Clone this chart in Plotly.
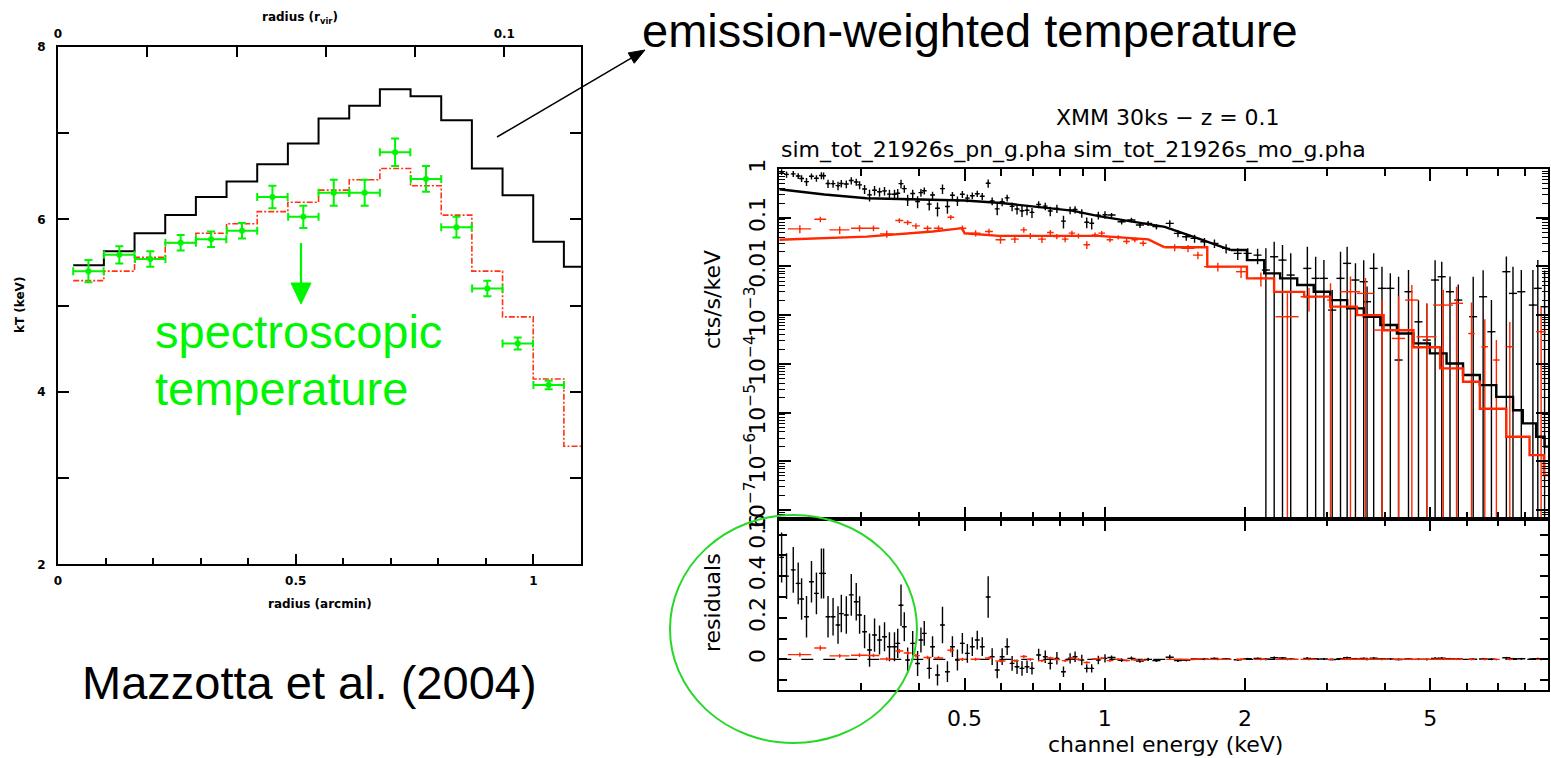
import plotly.graph_objects as go

W, H = 1551, 758

# ---------------- Left panel: Mazzotta et al. (2004) ----------------
bin_edges = [0.032, 0.0965, 0.161, 0.2255, 0.29, 0.3545, 0.419, 0.4835, 0.548,
             0.6125, 0.677, 0.7415, 0.806, 0.8705, 0.935, 0.9995, 1.064, 1.1]
kT_emission = [5.47, 5.63, 5.84, 6.05, 6.26, 6.44, 6.64, 6.88, 7.17, 7.32, 7.51,
               7.43, 7.15, 6.59, 6.28, 5.74, 5.45]
kT_spec_model = [5.29, 5.40, 5.56, 5.73, 5.84, 5.95, 6.09, 6.20, 6.34, 6.46, 6.59,
                 6.39, 6.05, 5.40, 4.87, 4.15, 3.37]
kT_spec_r = [0.064, 0.129, 0.194, 0.258, 0.322, 0.387, 0.451, 0.516, 0.580, 0.645,
             0.709, 0.774, 0.838, 0.903, 0.967, 1.032]
kT_spec = [5.40, 5.59, 5.54, 5.73, 5.77, 5.87, 6.26, 6.03, 6.31, 6.31, 6.78, 6.47,
           5.91, 5.20, 4.56, 4.08]
kT_spec_err = [0.13, 0.10, 0.09, 0.09, 0.09, 0.09, 0.13, 0.13, 0.15, 0.15, 0.16,
               0.15, 0.12, 0.09, 0.07, 0.05]
kT_spec_rerr = [0.032] * 16

# ---------------- Right panel: XMM spectra ----------------
pn_E_lo = [0.2023, 0.2073, 0.2143, 0.2196, 0.2233, 0.2288, 0.2345, 0.2403, 0.2463, 0.249,
           0.2545, 0.2609, 0.2674, 0.2718, 0.2786, 0.2855, 0.2926, 0.2975, 0.3049, 0.3125,
           0.3203, 0.3283, 0.3365, 0.3448, 0.3535, 0.3592, 0.3651, 0.3711, 0.3773, 0.3868,
           0.3963, 0.4029, 0.4096, 0.4198, 0.4267, 0.4373, 0.4482, 0.4593, 0.4708, 0.4826,
           0.4945, 0.5069, 0.5194, 0.5323, 0.5456, 0.5618, 0.5730, 0.5875, 0.6020, 0.6171,
           0.6324, 0.648, 0.6641, 0.6808, 0.6977, 0.7211, 0.7451, 0.7637, 0.7892, 0.8153,
           0.8424, 0.8634, 0.8925, 0.9146, 0.9374, 0.9687, 1.001]
pn_rate_lo = [0.87, 0.775, 0.795, 0.72, 0.64, 0.55, 0.71, 0.647, 0.733, 0.728,
              0.505, 0.50, 0.455, 0.505, 0.493, 0.58, 0.542, 0.473, 0.388, 0.295,
              0.367, 0.341, 0.355, 0.305, 0.303, 0.318, 0.50, 0.396, 0.235, 0.314,
              0.216, 0.328, 0.359, 0.19, 0.293, 0.156, 0.395, 0.17, 0.289, 0.224,
              0.303, 0.253, 0.283, 0.311, 0.275, 0.51, 0.22, 0.152, 0.212, 0.256,
              0.171, 0.151, 0.139, 0.142, 0.129, 0.187, 0.173, 0.137, 0.155, 0.085,
              0.143, 0.147, 0.125, 0.081, 0.077, 0.112, 0.115]
pn_err_lo = [0.12, 0.11, 0.11, 0.10, 0.10, 0.10, 0.10, 0.10, 0.12, 0.12,
             0.10, 0.09, 0.09, 0.09, 0.09, 0.10, 0.09, 0.09, 0.08, 0.08,
             0.08, 0.07, 0.07, 0.07, 0.07, 0.07, 0.10, 0.07, 0.06, 0.06,
             0.06, 0.06, 0.06, 0.05, 0.05, 0.05, 0.088, 0.05, 0.05, 0.05,
             0.05, 0.045, 0.045, 0.045, 0.045, 0.10, 0.04, 0.04, 0.04, 0.04,
             0.035, 0.035, 0.035, 0.03, 0.03, 0.03, 0.03, 0.03, 0.03, 0.025,
             0.025, 0.025, 0.025, 0.02, 0.02, 0.02, 0.02]
pn_res_lo = [0.49, 0.40, 0.43, 0.365, 0.29, 0.205, 0.373, 0.317, 0.413, 0.413,
             0.205, 0.205, 0.165, 0.22, 0.213, 0.31, 0.277, 0.213, 0.133, 0.045,
             0.117, 0.093, 0.109, 0.061, 0.061, 0.077, 0.26, 0.157, -0.003, 0.077,
             -0.02, 0.093, 0.125, -0.043, 0.061, -0.075, 0.165, -0.059, 0.061, -0.003,
             0.077, 0.029, 0.061, 0.093, 0.061, 0.30, 0.013, -0.051, 0.013, 0.061,
             -0.019, -0.035, -0.043, -0.035, -0.043, 0.021, 0.013, -0.019, 0.005, -0.059,
             0.005, 0.013, -0.003, -0.043, -0.043, -0.003, 0.005]

pn_E_hi = [1.034, 1.087, 1.141, 1.19, 1.239, 1.291, 1.379, 1.436, 1.496, 1.559, 1.637,
           1.72, 1.822, 1.93, 2.027, 2.129, 2.218, 2.311, 2.408, 2.508, 2.723, 2.837,
           2.955, 3.079, 3.208, 3.315, 3.454, 3.598, 3.658, 3.78, 3.938, 4.104, 4.275,
           4.49, 4.717, 4.915, 5.121, 5.292, 5.513, 5.743, 6.183, 6.494, 6.766, 7.285,
           7.527, 7.843, 8.306, 8.51, 8.80]
pn_rate_hi = [0.1136, 0.0829, 0.0897, 0.0708, 0.0766, 0.0655, 0.0766, 0.0478, 0.0408,
              0.0377, 0.0322, 0.0298, 0.0235, 0.0185, 0.0185, 0.0171, 0.00844, 0.0158,
              0.0135, 0.00665, 0.00912, 0.00569, 0.00569, 0.00127, 0.00569, 0.01156,
              0.00526, 0.00486, 0.00189, 0.00912, 0.00355, 0.00355, 0.00012, 0.00303,
              0.00073, 0.000308, 0.00526, 0.00615, 0.00303, 0.00204, 0.00093, 0.00239,
              0.000457, 0.0078, 0.0028, 0.00303, 0.00161, 0.00355, 0.00149]
pn_err_hi = [0.012, 0.01, 0.01, 0.009, 0.009, 0.008, 0.012, 0.008, 0.007, 0.007, 0.006,
             0.006, 0.005, 0.005, 0.005, 0.006, 0.0151, 0.0165, 0.0142, 0.0119, 0.0163,
             0.0101, 0.0078, 0.002, 0.0144, 0.0138, 0.0063, 0.0086, 0.002, 0.0096, 0.0063,
             0.0037, 0.006, 0.0054, 0.0013, 0.0014, 0.0082, 0.0064, 0.0032, 0.0022, 0.0052,
             0.006, 0.0016, 0.0082, 0.0071, 0.0054, 0.0068, 0.01, 0.0068]
pn_res_hi = [0.009, -0.004, 0.005, -0.008, 0.0, -0.006, 0.01, -0.006, -0.004, 0.002, 0.001,
             0.004, 0.002, -0.002, 0.003, 0.004, 0.001, 0.008, 0.007, 0.001, 0.005, 0.002,
             0.002, -0.001, 0.003, 0.008, 0.003, 0.004, 0.0, 0.006, 0.002, 0.002, -0.0003,
             0.002, 0.0003, 0.0, 0.005, 0.006, 0.003, 0.002, 0.0009, 0.002, 0.0004, 0.0078,
             0.0028, 0.003, 0.0016, 0.0035, 0.0015]
pn_res_err_hi = [0.01, 0.009, 0.009, 0.008, 0.008, 0.007, 0.012, 0.006, 0.005, 0.005, 0.004,
                 0.004, 0.004, 0.004, 0.004, 0.004, 0.005, 0.006, 0.005, 0.004, 0.005, 0.004,
                 0.004, 0.002, 0.004, 0.005, 0.003, 0.004, 0.002, 0.004, 0.003, 0.002, 0.003,
                 0.003, 0.002, 0.002, 0.004, 0.004, 0.003, 0.002, 0.002, 0.003, 0.002, 0.004,
                 0.003, 0.003, 0.003, 0.004, 0.003]

mos_E = [0.2214, 0.245, 0.2696, 0.2974, 0.3186, 0.3402, 0.3621, 0.3773, 0.393, 0.4163,
         0.4395, 0.467, 0.4945, 0.528, 0.564, 0.5972, 0.641, 0.67, 0.692, 0.733, 0.764,
         0.789, 0.822, 0.85, 0.878, 0.915, 0.953, 0.985, 1.026, 1.069, 1.114, 1.16, 1.209,
         1.413, 1.509, 1.585, 1.749, 1.962, 2.164, 2.467, 2.745, 3.053, 3.37, 3.63, 3.938,
         4.275, 4.565, 4.915, 5.333, 5.694, 6.132, 6.548, 6.934, 7.41, 8.65]
mos_Eerr = [0.0127, 0.0072, 0.0133, 0.0122, 0.0094, 0.0112, 0.0071, 0.0074, 0.0077, 0.0082,
            0.0101, 0.0077, 0.0097, 0.013, 0.011, 0.0147, 0.0126, 0.011, 0.0113, 0.0144,
            0.0125, 0.0129, 0.0135, 0.0139, 0.0144, 0.015, 0.0156, 0.0161, 0.0168, 0.0175,
            0.0183, 0.019, 0.0198, 0.058, 0.0495, 0.039, 0.115, 0.048, 0.071, 0.141, 0.112,
            0.05, 0.166, 0.149, 0.161, 0.14, 0.15, 0.242, 0.262, 0.187, 0.1, 0.107, 0.114,
            0.121, 0.213]
mos_rate = [0.059, 0.0932, 0.0564, 0.061, 0.061, 0.0467, 0.0875, 0.0796, 0.068, 0.061,
            0.061, 0.1023, 0.061, 0.0482, 0.0521, 0.0352, 0.0363, 0.0564, 0.0425, 0.0363,
            0.0497, 0.0411, 0.0363, 0.0482, 0.0425, 0.0278, 0.0445, 0.0482, 0.0352, 0.0399,
            0.0325, 0.0352, 0.03, 0.0246, 0.0235, 0.0171, 0.00988, 0.0078, 0.00569, 0.00093,
            0.00239, 0.00204, 0.00303, 0.0028, 0.000494, 0.000333, 0.00204, 0.00036, 0.00161,
            0.00175, 0.00042, 0.000225, 0.00012, 0.000225, 0.000457]
mos_err = [0.011, 0.012, 0.01, 0.009, 0.008, 0.008, 0.01, 0.009, 0.009, 0.008, 0.008,
           0.011, 0.008, 0.007, 0.007, 0.006, 0.006, 0.007, 0.006, 0.006, 0.006, 0.005,
           0.005, 0.006, 0.005, 0.005, 0.005, 0.005, 0.004, 0.004, 0.004, 0.004, 0.004,
           0.004, 0.004, 0.003, 0.002, 0.002, 0.0018, 0.0019, 0.0012, 0.0025, 0.0032,
           0.003, 0.0016, 0.0021, 0.0021, 0.0014, 0.0017, 0.0021, 0.0014, 0.0006, 0.00019,
           0.0005, 0.001]
mos_res = [0.023, 0.055, 0.017, 0.02, 0.019, 0.002, 0.04, 0.031, 0.018, 0.009, 0.007,
           0.044, 0.0, 0.001, 0.007, -0.008, -0.006, 0.014, 0.0, -0.006, 0.007, -0.001,
           -0.006, 0.006, 0.0, -0.015, 0.002, 0.006, -0.006, 0.0, -0.005, -0.002, -0.004,
           0.0, -0.001, 0.002, 0.0, 0.001, 0.0, 0.0, 0.0, 0.0, 0.001, 0.001, 0.0, 0.0,
           0.001, 0.0, 0.001, 0.001, 0.0, 0.0, 0.0, 0.0, 0.0]
mos_res_err = [0.01, 0.012, 0.009, 0.009, 0.008, 0.008, 0.01, 0.009, 0.009, 0.008, 0.008,
               0.011, 0.008, 0.007, 0.007, 0.006, 0.006, 0.007, 0.006, 0.006, 0.006, 0.005,
               0.005, 0.006, 0.005, 0.005, 0.005, 0.005, 0.004, 0.004, 0.004, 0.004, 0.004,
               0.003, 0.003, 0.002, 0.002, 0.002, 0.002, 0.002, 0.002, 0.002, 0.002, 0.002,
               0.001, 0.001, 0.002, 0.001, 0.001, 0.001, 0.001, 0.0005, 0.0003, 0.0005, 0.001]

pn_model_E_lo = [0.2, 0.25, 0.308, 0.4, 0.5, 0.6, 0.7, 0.85, 0.97, 1.141, 1.345, 1.585, 1.866]
pn_model_lo = [0.384, 0.30, 0.251, 0.235, 0.225, 0.20, 0.169, 0.14, 0.108, 0.083, 0.065,
               0.0377, 0.0217]
pn_model_E_hi = [1.866, 2.02, 2.2, 2.38, 2.59, 2.81, 3.05, 3.315, 3.6, 3.906, 4.24, 4.6,
                 4.99, 5.42, 5.88, 6.39, 6.93, 7.53, 7.9, 8.44, 8.8, 8.95]
pn_model_hi = [0.0217, 0.0135, 0.0072, 0.0057, 0.00415, 0.00303, 0.00204, 0.00138, 0.00093,
               0.000626, 0.00042, 0.000263, 0.000164, 0.000102, 5.9e-5, 3.67e-5, 2.1e-5,
               1.12e-5, 6e-6, 3.2e-6, 2e-6, 2e-6]
mos_model_E_lo = [0.2, 0.308, 0.427, 0.494, 0.5, 0.593, 0.97, 1.24, 1.345]
mos_model_lo = [0.0352, 0.041, 0.052, 0.061, 0.048, 0.0425, 0.0425, 0.036, 0.0247]
mos_model_E_hi = [1.345, 1.66, 2.02, 2.31, 2.68, 3.05, 3.48, 3.97, 4.6, 5.25, 5.88, 6.39,
                  7.28, 8.17, 8.77, 8.95]
mos_model_hi = [0.0247, 0.0099, 0.0057, 0.003, 0.0024, 0.0015, 0.001, 0.00049, 0.00022,
                8.1e-5, 4.3e-5, 1.2e-5, 3.2e-6, 1.34e-6, 5.2e-7, 5.2e-7]

ytick_vals = [1, 0.1, 0.01, 1e-3, 1e-4, 1e-5, 1e-6, 1e-7]
ytick_text = ['1', '0.1', '0.01', '10<sup>\u22123</sup>', '10<sup>\u22124</sup>',
              '10<sup>\u22125</sup>', '10<sup>\u22126</sup>', '10<sup>\u22127</sup>']

BLACK = 'black'
RED = 'rgb(255,40,0)'
GREEN = 'rgb(0,245,0)'


def px(x):
    return x / W


def py(y):
    return 1 - y / H


fig = go.Figure()

# left panel traces
fig.add_trace(go.Scatter(x=bin_edges, y=kT_emission + [kT_emission[-1]], mode='lines',
                         line=dict(color=BLACK, width=2, shape='hv'),
                         xaxis='x', yaxis='y', showlegend=False))
fig.add_trace(go.Scatter(x=bin_edges, y=kT_spec_model + [kT_spec_model[-1]], mode='lines',
                         line=dict(color='rgb(255,50,20)', width=1.6, shape='hv',
                                   dash='6px,2px,2px,2px'),
                         xaxis='x', yaxis='y', showlegend=False))
fig.add_trace(go.Scatter(x=kT_spec_r, y=kT_spec, mode='markers',
                         marker=dict(color=GREEN, size=6),
                         error_y=dict(type='data', array=kT_spec_err, color=GREEN,
                                      thickness=2, width=4),
                         error_x=dict(type='data', array=kT_spec_rerr, color=GREEN,
                                      thickness=2, width=4),
                         xaxis='x', yaxis='y', showlegend=False))
# dummy for top axis of left panel
fig.add_trace(go.Scatter(x=[0.05], y=[5], mode='markers', marker=dict(opacity=0),
                         xaxis='x2', yaxis='y', showlegend=False, hoverinfo='skip'))


def spec_trace(E, v, ey, ex, color, xa, ya, ex_pct=None):
    exd = dict(type='data', array=ex, color=color, thickness=1.4, width=0) if ex is not None \
        else dict(type='percent', value=ex_pct, color=color, thickness=1.4, width=0)
    return go.Scatter(x=E, y=v, mode='markers', marker=dict(color=color, size=2),
                      error_y=dict(type='data', array=ey, color=color, thickness=1.4, width=0),
                      error_x=exd, xaxis=xa, yaxis=ya, showlegend=False)


fig.add_trace(spec_trace(pn_E_lo, pn_rate_lo, pn_err_lo, None, BLACK, 'x3', 'y3', 1.2))
fig.add_trace(spec_trace(pn_E_hi, pn_rate_hi, pn_err_hi, None, BLACK, 'x3', 'y3', 2.0))
fig.add_trace(spec_trace(mos_E, mos_rate, mos_err, mos_Eerr, RED, 'x3', 'y3'))
fig.add_trace(go.Scatter(x=pn_model_E_lo, y=pn_model_lo, mode='lines',
                         line=dict(color=BLACK, width=2.4), xaxis='x3', yaxis='y3',
                         showlegend=False))
fig.add_trace(go.Scatter(x=pn_model_E_hi, y=pn_model_hi, mode='lines',
                         line=dict(color=BLACK, width=2.4, shape='hv'), xaxis='x3', yaxis='y3',
                         showlegend=False))
fig.add_trace(go.Scatter(x=mos_model_E_lo, y=mos_model_lo, mode='lines',
                         line=dict(color=RED, width=2.4), xaxis='x3', yaxis='y3',
                         showlegend=False))
fig.add_trace(go.Scatter(x=mos_model_E_hi, y=mos_model_hi, mode='lines',
                         line=dict(color=RED, width=2.4, shape='hv'), xaxis='x3', yaxis='y3',
                         showlegend=False))

# residuals
fig.add_trace(spec_trace(pn_E_lo, pn_res_lo, pn_err_lo, None, BLACK, 'x4', 'y4', 1.2))
fig.add_trace(spec_trace(pn_E_hi, pn_res_hi, pn_res_err_hi, None, BLACK, 'x4', 'y4', 2.0))
fig.add_trace(spec_trace(mos_E, mos_res, mos_res_err, mos_Eerr, RED, 'x4', 'y4'))

LFONT = dict(family='DejaVu Sans', size=12, color='black', weight='bold')
RFONT = dict(family='DejaVu Sans', size=22, color='black')

axis_common = dict(showline=True, linecolor='black', linewidth=2, ticks='inside',
                   tickcolor='black', showgrid=False, zeroline=False, automargin=False)

minor_E = [0.3, 0.4, 0.6, 0.7, 0.8, 0.9, 3, 4, 6, 7, 8]
minor_logy = [m * 10 ** e for e in range(-8, 0) for m in range(2, 10)]

fig.update_layout(
    template='none',
    width=W, height=H, margin=dict(l=0, r=0, t=0, b=0, pad=0, autoexpand=False),
    paper_bgcolor='white', plot_bgcolor='rgba(0,0,0,0)',
    showlegend=False,
    xaxis=dict(domain=[px(58), px(581)], anchor='y', range=[0, 1.1],
               tickvals=[0, 0.5, 1], ticktext=['0', '0.5', '1'], ticklen=10, tickwidth=1.5,
               minor=dict(tickvals=[0.1, 0.2, 0.3, 0.4, 0.6, 0.7, 0.8, 0.9], ticklen=6,
                          ticks='inside', tickcolor='black', tickwidth=1.5),
               tickfont=LFONT, ticklabelstandoff=4, **axis_common),
    xaxis2=dict(overlaying='x', side='top', anchor='y', range=[0, 0.1172],
                tickvals=[0, 0.1], ticktext=['0', '0.1'], ticklen=10, tickwidth=1.5,
                minor=dict(tickvals=[0.02, 0.04, 0.06, 0.08], ticklen=10, ticks='inside',
                           tickcolor='black', tickwidth=1.5),
                tickfont=LFONT, ticklabelstandoff=2, **axis_common),
    yaxis=dict(domain=[py(564.3), py(47)], anchor='x', range=[2, 8],
               tickvals=[2, 4, 6, 8], ticktext=['2', '4', '6', '8'], ticklen=11, tickwidth=1.5,
               minor=dict(tickvals=[3, 5, 7], ticklen=11, ticks='inside', tickcolor='black',
                          tickwidth=1.5),
               mirror='allticks', tickfont=LFONT, ticklabelstandoff=8, **axis_common),
    xaxis3=dict(domain=[px(779.3), px(1548)], anchor='y3', type='log',
                range=[-0.69897, 0.95182], matches='x4', showticklabels=False,
                tickvals=[0.5, 1, 2, 5], ticklen=12, tickwidth=1.5, mirror='allticks',
                minor=dict(tickvals=minor_E, ticklen=7, ticks='inside', tickcolor='black',
                           tickwidth=1.5),
                **axis_common),
    yaxis3=dict(domain=[py(519.3), py(169)], anchor='x3', type='log', range=[-7.19, 0],
                tickvals=ytick_vals, ticktext=ytick_text, tickangle=-90, ticklen=12,
                tickwidth=1.5, mirror='allticks',
                minor=dict(tickvals=minor_logy, ticklen=6, ticks='inside', tickcolor='black',
                           tickwidth=1.2),
                tickfont=RFONT, ticklabelstandoff=4, **axis_common),
    xaxis4=dict(domain=[px(779.3), px(1548)], anchor='y4', type='log',
                range=[-0.69897, 0.95182],
                tickvals=[0.5, 1, 2, 5], ticktext=['0.5', '1', '2', '5'], ticklen=12,
                tickwidth=1.5, mirror='allticks',
                minor=dict(tickvals=minor_E, ticklen=7, ticks='inside', tickcolor='black',
                           tickwidth=1.5),
                tickfont=RFONT, ticklabelstandoff=8, **axis_common),
    yaxis4=dict(domain=[py(690), py(519.3)], anchor='x4', range=[-0.147, 0.673],
                tickvals=[0, 0.2, 0.4, 0.6], ticktext=['0', '0.2', '0.4', '0.6'],
                tickangle=-90, ticklen=8, tickwidth=1.5, mirror='allticks',
                minor=dict(tickvals=[-0.1, 0.1, 0.3, 0.5], ticklen=8, ticks='inside',
                           tickcolor='black', tickwidth=1.5),
                tickfont=RFONT, ticklabelstandoff=4, **axis_common),
)

# zero line in residuals
fig.add_shape(type='line', xref='x4 domain', yref='y4', x0=0, x1=1, y0=0, y1=0,
              line=dict(color='black', width=1.3, dash='12px,10px'), layer='below')

# green ellipse
fig.add_shape(type='circle', xref='paper', yref='paper', x0=px(670), x1=px(917),
              y0=py(743), y1=py(515), line=dict(color='rgb(40,215,40)', width=2))


def arrow(x0, y0, x1, y1, color, width, head_len, head_half):
    # line from tail (x0,y0) to the base of the head, plus a filled triangular head at (x1,y1)
    dx, dy = x1 - x0, y1 - y0
    L = (dx * dx + dy * dy) ** 0.5
    ux, uy = dx / L, dy / L
    bx, by = x1 - head_len * ux, y1 - head_len * uy
    fig.add_shape(type='line', xref='paper', yref='paper', x0=px(x0), y0=py(y0),
                  x1=px(bx), y1=py(by), line=dict(color=color, width=width))
    p1 = (bx + head_half * uy, by - head_half * ux)
    p2 = (bx - head_half * uy, by + head_half * ux)
    path = 'M {} {} L {} {} L {} {} Z'.format(px(x1), py(y1), px(p1[0]), py(p1[1]),
                                              px(p2[0]), py(p2[1]))
    fig.add_shape(type='path', xref='paper', yref='paper', path=path, fillcolor=color,
                  line=dict(color=color, width=1))


arrow(497, 137, 645, 50, 'black', 1.5, 16, 6)
arrow(301, 243, 301, 304, GREEN, 2.2, 21, 10)

ann = []


def text(x, y, s, font, xanchor='center', yanchor='middle', angle=0):
    ann.append(dict(x=px(x), y=py(y), xref='paper', yref='paper', text=s, showarrow=False,
                    font=font, xanchor=xanchor, yanchor=yanchor, textangle=angle))


text(300, 18, 'radius (r<sub>vir</sub>)', LFONT)
text(320, 604, 'radius (arcmin)', LFONT)
text(20, 305, 'kT (keV)', LFONT, angle=-90)

BIG = dict(family='Liberation Sans', size=47, color='black')
text(640, 30, 'emission-weighted temperature', BIG, xanchor='left')
text(80, 682, 'Mazzotta et al. (2004)', BIG, xanchor='left')
GBIG = dict(family='Liberation Sans', size=47, color=GREEN)
text(153, 331, 'spectroscopic', GBIG, xanchor='left')
text(153, 388, 'temperature', GBIG, xanchor='left')

text(1168, 118, 'XMM 30ks \u2212 z = 0.1', RFONT)
text(779, 150, 'sim_tot_21926s_pn_g.pha sim_tot_21926s_mo_g.pha', RFONT, xanchor='left')
text(712, 300, 'cts/s/keV', RFONT, angle=-90)
text(712, 603, 'residuals', RFONT, angle=-90)
text(1165, 744, 'channel energy (keV)', RFONT)

fig.update_layout(annotations=ann)

fig.write_html('out.html')
